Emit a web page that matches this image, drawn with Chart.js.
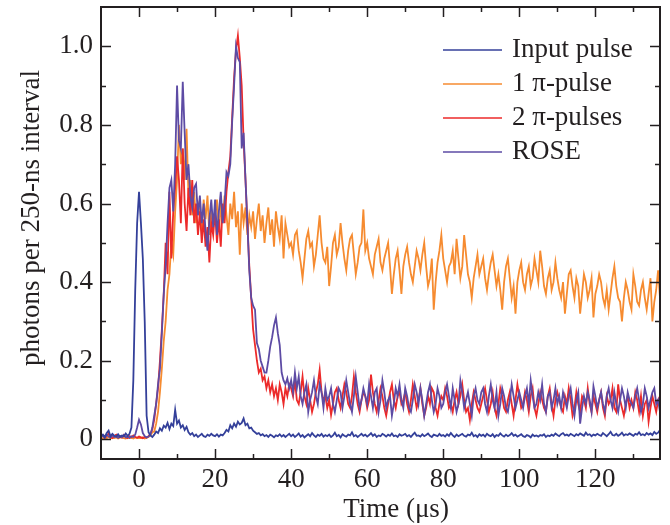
<!DOCTYPE html>
<html>
<head>
<meta charset="utf-8">
<script src="https://cdn.jsdelivr.net/npm/chart.js@4.4.1/dist/chart.umd.min.js"></script>
<style>
  html, body { margin: 0; padding: 0; background: #fff; }
</style>
</head>
<body>
<canvas id="chart" width="670" height="525"></canvas>
<script>
// time grid: 0.5 us bins from -10 to 137 us
const T_START = -10;
const T_STEP = 0.5;

const X_TICKS = [0, 20, 40, 60, 80, 100, 120];
const X_MINOR = [10, 30, 50, 70, 90, 110, 130];
const Y_TICKS = [0, 0.2, 0.4, 0.6, 0.8, 1.0];
const Y_MINOR = [0.1, 0.3, 0.5, 0.7, 0.9];

const LABELS = ["Input pulse", "1 \u03c0-pulse", "2 \u03c0-pulses", "ROSE"];
const COLORS = ["#34409a", "#f68b30", "#ec2a2a", "#5d4ba4"];

// one row = 10 us (20 bins)
const inputPulse = [
  .008,.012,.006,.016,.022,.008,.014,.009,.007,.013,.006,.010,.008,.015,.009,.014,.03,.15,.38,.55,
  .63,.55,.46,.30,.06,.018,.010,.006,.012,.020,.016,.028,.022,.035,.030,.042,.026,.040,.034,.075,
  .040,.048,.030,.036,.024,.032,.018,.012,.016,.008,.012,.006,.010,.014,.008,.006,.012,.009,.014,.010,
  .008,.013,.007,.012,.010,.016,.024,.020,.036,.028,.040,.032,.045,.038,.042,.053,.036,.040,.028,.030,
  .022,.018,.014,.016,.010,.013,.008,.011,.006,.012,.009,.005,.010,.008,.013,.007,.011,.006,.010,.014,
  .008,.012,.006,.010,.015,.007,.011,.005,.009,.013,.008,.016,.010,.006,.012,.009,.014,.007,.011,.008,
  .012,.006,.010,.017,.008,.011,.005,.013,.009,.007,.012,.010,.018,.008,.011,.006,.010,.014,.009,.012,
  .007,.011,.016,.009,.013,.006,.010,.008,.014,.011,.007,.012,.009,.015,.008,.010,.006,.013,.009,.011,
  .014,.008,.011,.006,.012,.017,.009,.010,.007,.013,.008,.011,.015,.009,.006,.012,.010,.008,.014,.009,
  .011,.007,.013,.009,.016,.010,.006,.012,.008,.011,.014,.009,.007,.012,.010,.017,.008,.011,.006,.013,
  .009,.012,.007,.014,.010,.008,.013,.006,.011,.009,.015,.010,.007,.012,.008,.011,.016,.009,.012,.007,
  .010,.013,.008,.006,.011,.009,.005,.012,.008,.010,.007,.011,.009,.013,.006,.010,.008,.012,.009,.015,
  .011,.008,.013,.016,.010,.012,.009,.014,.011,.008,.013,.010,.015,.012,.009,.017,.011,.013,.008,.012,
  .010,.014,.011,.009,.016,.012,.008,.013,.019,.011,.010,.014,.009,.012,.017,.010,.013,.011,.015,.012,
  .009,.014,.012,.018,.011,.013,.010,.016,.012,.015,.011,.019,.014,.017,.024
];

const onePi = [
  .004,.002,.005,.003,.006,.002,.004,.003,.005,.002,.004,.006,.003,.002,.005,.003,.004,.002,.005,.003,
  .004,.003,.005,.002,.004,.006,.010,.018,.02,.04,.07,.12,.18,.25,.30,.38,.42,.50,.47,.58,
  .66,.80,.70,.74,.66,.79,.62,.66,.57,.63,.55,.60,.58,.53,.61,.56,.62,.52,.58,.55,
  .57,.61,.53,.59,.55,.62,.57,.52,.60,.56,.63,.54,.58,.47,.60,.55,.59,.52,.57,.54,
  .58,.51,.56,.60,.53,.57,.50,.55,.59,.52,.56,.49,.58,.54,.51,.57,.46,.55,.52,.49,
  .50,.47,.52,.53,.48,.45,.41,.46,.51,.53,.49,.50,.44,.47,.52,.57,.50,.46,.45,.49,
  .39,.44,.50,.52,.47,.49,.55,.50,.46,.43,.48,.51,.52,.47,.42,.45,.49,.50,.585,.48,
  .50,.46,.44,.42,.47,.49,.51,.45,.43,.46,.48,.50,.44,.37,.42,.46,.48,.43,.37,.44,
  .47,.49,.45,.42,.40,.44,.48,.46,.43,.47,.50,.44,.39,.41,.46,.33,.40,.45,.48,.52,
  .46,.43,.40,.44,.45,.48,.42,.51,.46,.41,.44,.52,.47,.42,.40,.36,.41,.44,.47,.42,
  .44,.46,.41,.38,.42,.45,.47,.43,.39,.42,.38,.33,.40,.44,.46,.41,.36,.39,.32,.40,
  .43,.45,.40,.38,.42,.44,.39,.41,.46,.43,.40,.48,.44,.39,.37,.41,.43,.38,.40,.45,
  .41,.38,.36,.40,.32,.37,.42,.43,.39,.36,.41,.39,.32,.37,.42,.40,.36,.38,.41,.31,
  .37,.39,.42,.40,.36,.34,.38,.33,.37,.41,.44,.39,.36,.35,.30,.36,.40,.38,.35,.33,
  .42,.39,.35,.34,.38,.40,.36,.33,.37,.41,.30,.35,.38,.43,.36
];

const twoPi = [
  .005,.010,.004,.008,.015,.006,.003,.009,.012,.005,.007,.004,.011,.006,.003,.008,.005,.010,.006,.004,
  .007,.005,.003,.006,.004,.008,.015,.025,.05,.09,.13,.20,.28,.37,.50,.42,.63,.46,.58,.64,
  .72,.66,.55,.74,.60,.53,.64,.57,.66,.55,.60,.52,.58,.50,.56,.49,.54,.45,.55,.52,
  .58,.50,.56,.49,.60,.55,.63,.68,.72,.82,.92,.99,1.027,.97,.90,.76,.66,.55,.44,.36,
  .28,.24,.20,.17,.18,.15,.16,.13,.15,.12,.14,.11,.13,.10,.14,.12,.09,.13,.11,.14,
  .13,.11,.15,.10,.09,.12,.16,.11,.09,.13,.10,.07,.09,.12,.14,.177,.12,.10,.11,.08,
  .10,.062,.09,.12,.13,.10,.08,.11,.14,.12,.09,.08,.11,.16,.12,.09,.07,.10,.12,.11,
  .08,.10,.165,.12,.09,.07,.10,.13,.11,.08,.06,.09,.12,.14,.10,.08,.11,.12,.09,.10,
  .12,.09,.07,.10,.14,.11,.08,.10,.13,.09,.06,.08,.11,.09,.13,.12,.08,.06,.09,.11,
  .10,.13,.11,.08,.09,.07,.10,.12,.09,.11,.14,.10,.07,.08,.049,.09,.12,.10,.08,.07,
  .09,.11,.13,.10,.07,.09,.12,.08,.06,.09,.13,.11,.08,.07,.10,.12,.09,.06,.10,.14,
  .11,.08,.09,.12,.10,.07,.11,.13,.08,.06,.09,.12,.10,.08,.07,.11,.13,.09,.06,.10,
  .12,.10,.08,.07,.11,.09,.13,.10,.06,.08,.12,.09,.07,.11,.10,.08,.13,.09,.07,.11,
  .09,.07,.10,.12,.08,.06,.11,.09,.10,.13,.08,.07,.14,.10,.08,.06,.09,.11,.08,.10,
  .08,.12,.10,.07,.11,.06,.09,.10,.045,.08,.11,.09,.07,.10,.11
];

const rose = [
  .006,.009,.004,.012,.007,.005,.010,.006,.008,.004,.009,.006,.011,.005,.007,.004,.008,.006,.012,.030,
  .050,.038,.016,.008,.005,.007,.012,.03,.06,.09,.14,.18,.27,.37,.44,.55,.64,.66,.58,.70,
  .90,.76,.74,.91,.78,.66,.70,.62,.59,.64,.65,.57,.62,.55,.60,.53,.48,.56,.61,.54,
  .61,.52,.58,.63,.55,.60,.68,.67,.70,.81,.90,1.00,.97,.96,.74,.78,.66,.55,.43,.36,
  .34,.33,.245,.23,.20,.185,.17,.17,.20,.236,.26,.29,.31,.27,.24,.17,.15,.14,.155,.13,
  .15,.12,.17,.13,.16,.11,.09,.12,.14,.07,.10,.12,.15,.11,.09,.14,.12,.08,.13,.10,
  .11,.13,.09,.07,.10,.13,.12,.08,.11,.15,.12,.09,.07,.11,.16,.12,.08,.10,.13,.11,
  .09,.14,.11,.08,.12,.13,.07,.10,.15,.12,.08,.10,.11,.06,.09,.13,.11,.14,.10,.08,
  .13,.11,.08,.07,.10,.14,.12,.09,.13,.10,.06,.09,.12,.14,.10,.07,.09,.13,.11,.08,
  .09,.12,.14,.11,.08,.13,.10,.07,.09,.15,.12,.08,.10,.12,.09,.06,.11,.13,.10,.09,
  .12,.13,.09,.07,.11,.14,.10,.08,.12,.06,.09,.13,.11,.08,.07,.10,.14,.11,.08,.10,
  .12,.10,.08,.11,.13,.09,.15,.11,.08,.09,.12,.10,.14,.09,.07,.11,.12,.08,.10,.13,
  .09,.11,.08,.12,.10,.08,.11,.13,.09,.06,.10,.12,.04,.08,.11,.09,.12,.10,.07,.135,
  .11,.08,.10,.12,.09,.07,.11,.13,.10,.08,.12,.09,.07,.10,.13,.11,.08,.12,.10,.09,
  .08,.11,.13,.10,.07,.09,.13,.11,.08,.10,.12,.13,.09,.10,.07
];

const FONT = '"Liberation Serif", "Times New Roman", serif';
const INK = "#231f20";

function toPoints(values) {
  return values.map((v, i) => ({ x: T_START + i * T_STEP, y: v }));
}

const series = [inputPulse, onePi, twoPi, rose];
// draw order in the figure: blue on top, then ROSE, red, orange
const drawOrder = [0, 3, 2, 1];

const framePlugin = {
  id: "frame",
  afterDraw(chart) {
    const { ctx, chartArea } = chart;
    const { left, right, top, bottom } = chartArea;
    const xs = chart.scales.x;
    const ys = chart.scales.y;
    ctx.save();
    ctx.strokeStyle = INK;
    ctx.lineWidth = 1.5;
    const tick = (x1, y1, x2, y2) => {
      ctx.beginPath();
      ctx.moveTo(x1, y1);
      ctx.lineTo(x2, y2);
      ctx.stroke();
    };
    X_TICKS.forEach((v) => {
      const px = Math.round(xs.getPixelForValue(v)) + 0.5;
      tick(px, bottom, px, bottom - 10);
      tick(px, top, px, top + 10);
    });
    X_MINOR.forEach((v) => {
      const px = Math.round(xs.getPixelForValue(v)) + 0.5;
      tick(px, bottom, px, bottom - 5);
      tick(px, top, px, top + 5);
    });
    Y_TICKS.forEach((v) => {
      const py = Math.round(ys.getPixelForValue(v)) + 0.5;
      tick(left, py, left + 10, py);
      tick(right, py, right - 10, py);
    });
    Y_MINOR.forEach((v) => {
      const py = Math.round(ys.getPixelForValue(v)) + 0.5;
      tick(left, py, left + 5, py);
      tick(right, py, right - 5, py);
    });
    ctx.lineWidth = 2;
    ctx.strokeRect(left, top, right - left, bottom - top);

    // axis titles
    ctx.fillStyle = INK;
    ctx.font = "27px " + FONT;
    ctx.textAlign = "center";
    ctx.textBaseline = "alphabetic";
    ctx.fillText("Time (\u03bcs)", 396, 517);
    ctx.save();
    ctx.translate(32, 218);
    ctx.rotate(-Math.PI / 2);
    ctx.textBaseline = "middle";
    ctx.fillText("photons per 250-ns interval", 0, 0);
    ctx.restore();

    // legend
    ctx.textAlign = "left";
    ctx.textBaseline = "middle";
    LABELS.forEach((label, i) => {
      const y = 50 + i * 34;
      ctx.strokeStyle = COLORS[i];
      ctx.lineWidth = 1.6;
      tick(443, y, 502, y);
      ctx.fillText(label, 512, y);
    });
    ctx.restore();
  },
};

new Chart(document.getElementById("chart"), {
  type: "line",
  data: {
    datasets: series.map((values, i) => ({
      label: LABELS[i],
      data: toPoints(values),
      borderColor: COLORS[i],
      borderWidth: 1.8,
      pointRadius: 0,
      tension: 0,
      fill: false,
      order: drawOrder.indexOf(i),
    })),
  },
  options: {
    responsive: false,
    animation: false,
    devicePixelRatio: 1,
    layout: { padding: { top: 7, right: 10, left: 0, bottom: 0 } },
    plugins: { legend: { display: false }, tooltip: { enabled: false } },
    scales: {
      x: {
        type: "linear",
        min: -10,
        max: 137,
        afterBuildTicks: (scale) => { scale.ticks = X_TICKS.map((v) => ({ value: v })); },
        afterFit: (scale) => {
          scale.height = 66;
          scale.paddingLeft = 0;
          scale.paddingRight = 0;
        },
        grid: { display: false, drawTicks: false },
        border: { display: false },
        ticks: {
          padding: 5,
          color: INK,
          font: { family: FONT, size: 27 },
          maxRotation: 0,
          callback: (v) => String(v),
        },
      },
      y: {
        type: "linear",
        min: -0.05,
        max: 1.1,
        afterBuildTicks: (scale) => { scale.ticks = Y_TICKS.map((v) => ({ value: v })); },
        afterFit: (scale) => {
          scale.width = 101;
          scale.paddingTop = 0;
          scale.paddingBottom = 0;
        },
        grid: { display: false, drawTicks: false },
        border: { display: false },
        ticks: {
          padding: 8,
          color: INK,
          font: { family: FONT, size: 27 },
          callback: (v) => (v === 0 ? "0" : v.toFixed(1)),
        },
      },
    },
  },
  plugins: [framePlugin],
});
</script>
</body>
</html>
